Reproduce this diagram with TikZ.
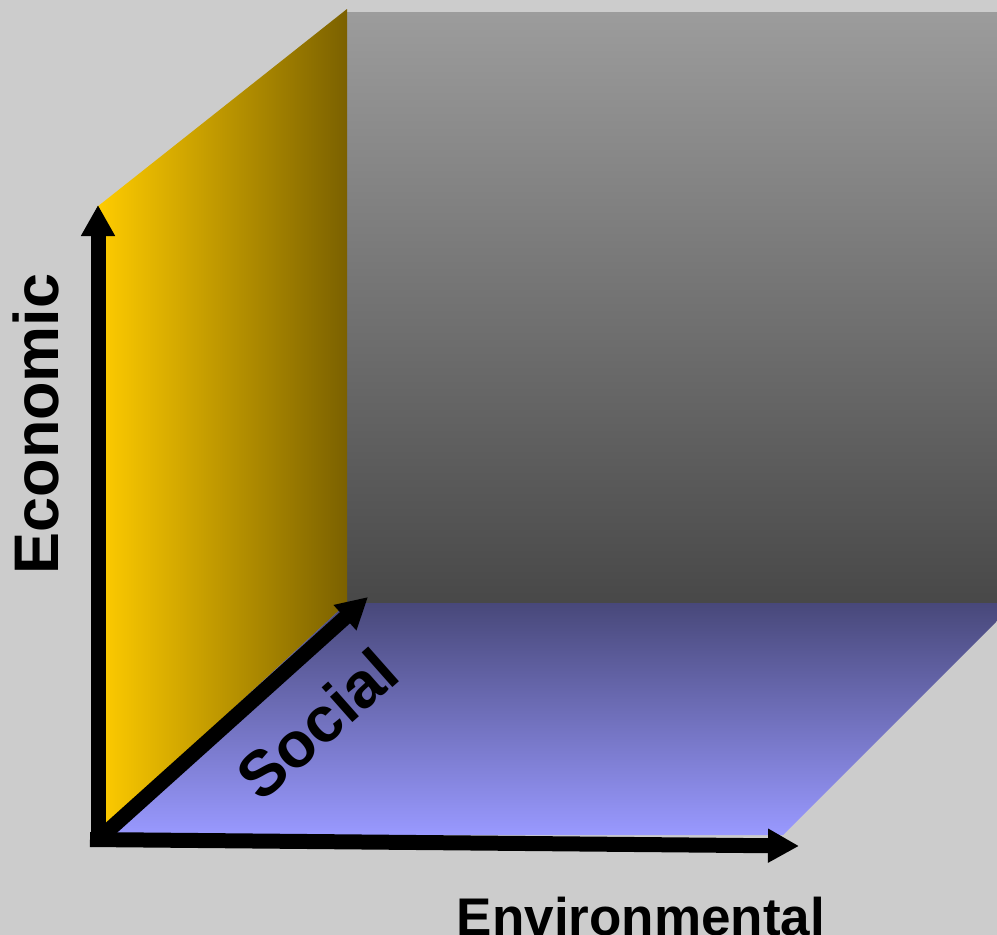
\documentclass[tikz,border=0pt]{standalone}
\usepackage{fontspec}
\setmainfont{Liberation Sans}
\usetikzlibrary{arrows.meta}

\definecolor{bggray}{HTML}{CCCCCC}
\definecolor{walltop}{HTML}{9C9C9C}
\definecolor{wallbot}{HTML}{484848}
\definecolor{goldleft}{HTML}{FFCC00}
\definecolor{goldright}{HTML}{7B6100}
\definecolor{floortop}{HTML}{48487A}
\definecolor{floorbot}{HTML}{9999FF}

\begin{document}
\begin{tikzpicture}[
  x=1pt, y=-1pt,
  axis/.style={line width=15pt, -{Triangle[length=31pt,width=32pt]}},
  axislabel/.style={inner sep=0pt, anchor=base}
]
\fill[bggray] (0,0) rectangle (997,935);
\clip (0,0) rectangle (997,935);

% back wall, side wall and floor
\shade[top color=walltop, bottom color=wallbot] (347,12) rectangle (1010,603);
\shade[left color=goldleft, right color=goldright]
  (97,207) -- (347,9) -- (347,603) -- (97,835) -- cycle;
\shade[top color=floortop, bottom color=floorbot]
  (97,835) -- (347,603) -- (1015,603) -- (783,835) -- cycle;

% axes
\coordinate (econbase) at (98,847);
\coordinate (econtip) at (98,205);
\coordinate (socbase) at (100,838);
\coordinate (soctip) at (368,597);
\coordinate (envbase) at (90,839.5);
\coordinate (envtip) at (799,846);

\draw[axis] (socbase) -- (soctip);
\draw[axis] (econbase) -- (econtip);
\draw[axis] (envbase) -- (envtip);

\node[axislabel, rotate=90, font=\bfseries\fontsize{63}{63}\selectfont] (econ) at (58,424) {Economic};
\node[axislabel, rotate=41.5, font=\bfseries\fontsize{64}{64}\selectfont] (soc) at (332,741) {Social};
\node[axislabel, font=\bfseries\fontsize{53}{53}\selectfont] (env) at (641,935) {Environmental};
\end{tikzpicture}
\end{document}
